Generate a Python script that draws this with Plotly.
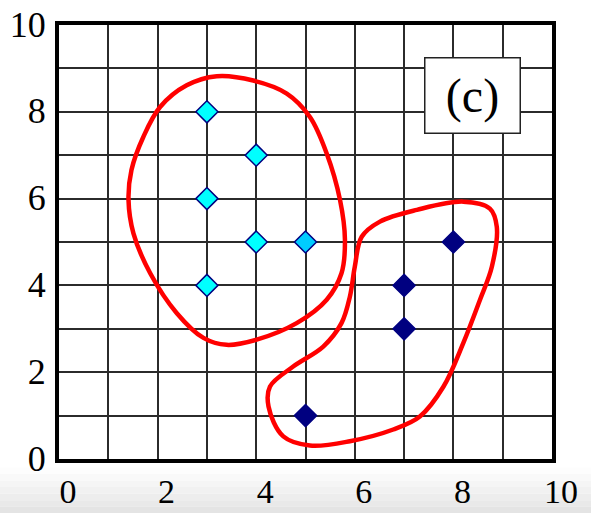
import plotly.graph_objects as go

# Points of the first group (light diamonds)
group1_x = [3, 4, 3, 4, 5, 3]
group1_y = [8, 7, 6, 5, 5, 4]
group1_fill = ["#00FFFF", "#00FFFF", "#00FFFF", "#00FFFF", "#00CCFF", "#00FFFF"]

# Points of the second group (dark diamonds)
group2_x = [8, 7, 7, 5]
group2_y = [5, 4, 3, 1]

# Hand-drawn outline around the first group (closed loop)
outline1_x = [3.20, 2.59, 2.05, 1.71, 1.47, 1.41, 1.51, 1.85, 2.39, 2.93, 3.40,
              4.01, 4.82, 5.43, 5.73, 5.80, 5.70, 5.43, 5.09, 4.62, 3.94, 3.20]
outline1_y = [8.82, 8.61, 8.11, 7.42, 6.66, 5.97, 5.20, 4.28, 3.36, 2.79, 2.63,
              2.75, 3.13, 3.67, 4.28, 5.05, 5.97, 7.04, 7.88, 8.42, 8.72, 8.82]

# Outline around the second group (closed loop)
outline2_x = [8.20, 8.74, 8.88, 8.78, 8.54, 8.20, 7.80, 7.32, 6.78, 5.90, 5.09,
              4.55, 4.25, 4.28, 4.75, 5.36, 5.73, 5.90, 6.00, 6.14, 6.51, 7.26, 8.20]
outline2_y = [5.93, 5.77, 5.35, 4.43, 3.67, 2.67, 1.67, 0.98, 0.68, 0.41, 0.31,
              0.52, 1.21, 1.67, 2.13, 2.59, 3.13, 3.74, 4.43, 5.12, 5.47, 5.74, 5.93]

tick_vals = list(range(0, 11))
tick_text = [str(v) if v % 2 == 0 else "" for v in tick_vals]

panel_label = "(c)"

serif = "Times New Roman, Times, Liberation Serif, DejaVu Serif, serif"

fig = go.Figure()

for ox, oy in [(outline1_x, outline1_y), (outline2_x, outline2_y)]:
    fig.add_trace(go.Scatter(
        x=ox, y=oy, mode="lines",
        line=dict(color="#FF0000", width=4.5, shape="spline", smoothing=1.0),
        hoverinfo="skip", showlegend=False,
    ))

fig.add_trace(go.Scatter(
    x=group1_x, y=group1_y, mode="markers",
    marker=dict(symbol="diamond", size=17, color=group1_fill,
                line=dict(color="#000080", width=1.5)),
    showlegend=False,
))
fig.add_trace(go.Scatter(
    x=group2_x, y=group2_y, mode="markers",
    marker=dict(symbol="diamond", size=17, color="#000080",
                line=dict(color="#000080", width=1.5)),
    showlegend=False,
))

# Soft grey band along the bottom edge of the page
bands = ["#fdfdfd", "#f9f9f9", "#f5f5f5", "#f1f1f1", "#ededed", "#e9e9e9", "#e4e4e4"]
y_top, y_bot = -0.0196, -0.125
step = (y_top - y_bot) / len(bands)
for i, c in enumerate(bands):
    fig.add_shape(type="rect", xref="paper", yref="paper",
                  x0=-0.13, x1=1.09, y0=y_top - i * step, y1=y_top - (i + 1) * step,
                  fillcolor=c, line_width=0, layer="below")

fig.add_annotation(
    x=8.38, y=8.38, xref="x", yref="y", text=panel_label, showarrow=False,
    font=dict(family=serif, size=48, color="black"),
    bgcolor="white", bordercolor="#222222", borderwidth=1.5, borderpad=0,
    width=94, height=74,
)

axis_common = dict(
    range=[0, 10], tickmode="array", tickvals=tick_vals, ticktext=tick_text,
    showgrid=True, gridcolor="#2b2b2b", gridwidth=1.5, automargin=False,
    zeroline=False, showline=True, linecolor="black", linewidth=4, mirror=True,
    ticks="", fixedrange=True,
)

fig.update_layout(
    template="none",
    width=591, height=513,
    margin=dict(l=59, r=39, t=25, b=54),
    paper_bgcolor="white", plot_bgcolor="white",
    font=dict(family=serif),
    xaxis=dict(**axis_common, ticklabelshift=9, ticklabelstandoff=-1,
               tickfont=dict(family=serif, size=34, color="black")),
    yaxis=dict(**axis_common, ticklabelshift=-1, ticklabelstandoff=2,
               tickfont=dict(family=serif, size=36, color="black")),
    showlegend=False,
)

fig.write_html("out.html")
